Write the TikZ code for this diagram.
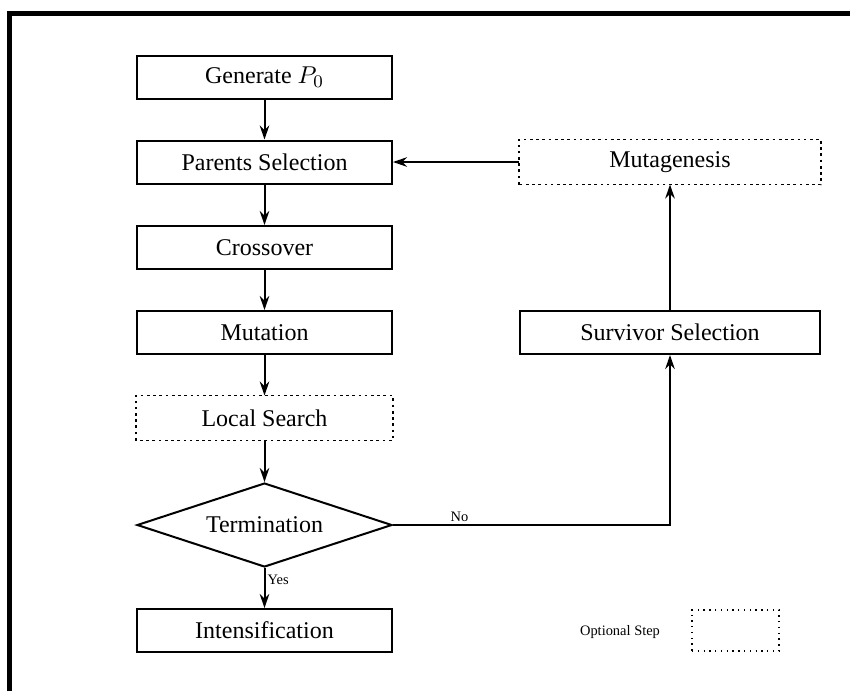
\documentclass[tikz,border=0pt]{standalone}
\usepackage{fontspec}
\setmainfont{Liberation Serif}
\usetikzlibrary{shapes.geometric,arrows.meta}
\tikzset{
  px/.style={x=0.45pt,y=-0.45pt},
  stepbox/.style={draw,line width=0.9pt,minimum width=114.75pt,minimum height=19.35pt,inner sep=0pt,font=\fontsize{10.8}{12}\selectfont},
  widebox/.style={minimum width=135pt},
  optborder/.style={draw,line width=0.8pt,dash pattern=on 1.2pt off 1.6pt},
  decision/.style={draw,line width=0.9pt,shape=diamond,aspect=3.04,inner sep=0pt,minimum width=114.75pt,minimum height=37.8pt,font=\fontsize{10.8}{12}\selectfont},
  flow/.style={line width=0.9pt,-{Stealth[length=6.3pt,width=4.3pt]}},
  lab/.style={font=\fontsize{6.5}{7}\selectfont,inner sep=1pt},
}
\begin{document}
\begin{tikzpicture}[px]
\useasboundingbox (0,0) rectangle (850,691);
\draw[line width=2.25pt] (9.8,691) -- (9.8,13.5) -- (850,13.5);
\node[stepbox] (gen) at (264.5,77.5) {Generate $P_0$};
\node[stepbox] (par) at (264.5,162) {Parents Selection};
\node[stepbox] (cro) at (264.5,247.5) {Crossover};
\node[stepbox] (mut) at (264.5,332.5) {Mutation};
\node[stepbox,draw=none] (loc) at (264.5,418) {Local Search};
\draw[optborder] (loc.south west) rectangle (loc.north east);
\node[decision] (ter) at (264.5,525) {Termination};
\node[stepbox] (int) at (264.5,630.5) {Intensification};
\node[stepbox,widebox,draw=none] (mgs) at (670,162) {Mutagenesis};
\draw[optborder] (mgs.south west) rectangle (mgs.north east);
\node[stepbox,widebox] (sur) at (670,332.5) {Survivor Selection};
\node[lab] (opt) at (620,632) {Optional Step};
\node[draw,dotted,line width=0.6pt,minimum width=39.15pt,minimum height=18.45pt,inner sep=0pt] (optb) at (735.5,630.5) {};
\coordinate (corner) at (670,525);
\draw[flow] (gen) -- (par);
\draw[flow] (par) -- (cro);
\draw[flow] (cro) -- (mut);
\draw[flow] (mut) -- (loc);
\draw[flow] (loc) -- (ter);
\draw[flow] (ter) -- node[lab,right,pos=0.3] {Yes} (int);
\draw[flow] (ter.east) -- node[lab,above,pos=0.24] {No} (corner) -- (sur.south);
\draw[flow] (sur) -- (mgs);
\draw[flow] (mgs) -- (par);
\end{tikzpicture}
\end{document}
